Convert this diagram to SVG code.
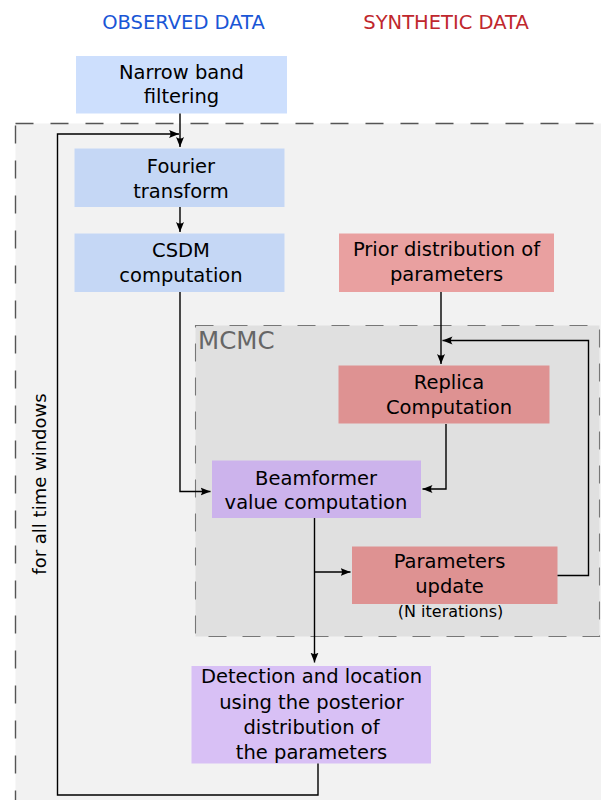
<svg xmlns="http://www.w3.org/2000/svg" width="601" height="800" viewBox="0 0 601 800">
  <style>
    text { font-family: "DejaVu Sans", "Liberation Sans", sans-serif; font-size: 19.5px; fill: #000; text-anchor: middle; }
    .hdr-obs { fill: #1a56d6; }
    .hdr-syn { fill: #c0272d; }
    .mcmc-lbl { font-size: 24.5px; fill: #666; text-anchor: start; }
    .small { font-size: 16px; }
    .side { font-size: 18px; }
    .obs-a { fill: #cddffd; }
    .obs-b { fill: #c5d7f5; }
    .prior { fill: #e9a0a0; }
    .syn { fill: #de9292; }
    .beam { fill: #ccb3ec; }
    .detect { fill: #d8c0f5; }
    .wire { fill: none; stroke: #000; stroke-width: 1.4; }
  </style>
  <defs>
    <marker id="arrow" viewBox="-10 -5 12 10" refX="0" refY="0" markerWidth="12" markerHeight="10" markerUnits="userSpaceOnUse" orient="auto">
      <path d="M0,0 L-10,-4 Q-7,0 -10,4 Z" fill="#000"/>
    </marker>
  </defs>

  <rect width="601" height="800" fill="#fff"/>

  <!-- column headings -->
  <text class="hdr-obs" x="183.5" y="29">OBSERVED DATA</text>
  <text class="hdr-syn" x="446" y="29">SYNTHETIC DATA</text>

  <!-- time-window loop frame -->
  <rect id="time-window-frame" x="15.5" y="123.5" width="620" height="720" fill="#f2f2f2" stroke="#555" stroke-width="1.4" stroke-dasharray="18 17"/>
  <text class="side" transform="translate(46,484) rotate(-90)">for all time windows</text>

  <!-- MCMC frame -->
  <g id="mcmc">
    <rect x="195.5" y="325.5" width="404" height="311" fill="#e0e0e0" stroke="#777" stroke-width="1.1" stroke-dasharray="18 16"/>
    <text class="mcmc-lbl" x="198" y="348.5">MCMC</text>
  </g>

  <g id="narrow-band">
    <rect class="obs-a" x="76" y="56" width="211" height="57.5"/>
    <text x="181.5" y="78.5">Narrow band</text>
    <text x="181.5" y="102.5">filtering</text>
  </g>

  <g id="fourier">
    <rect class="obs-b" x="74.5" y="148.5" width="210" height="58.5"/>
    <text x="181" y="172.5">Fourier</text>
    <text x="181" y="197.5">transform</text>
  </g>

  <g id="csdm">
    <rect class="obs-b" x="74.5" y="233.5" width="210" height="58.5"/>
    <text x="181" y="257">CSDM</text>
    <text x="181" y="282">computation</text>
  </g>

  <g id="prior">
    <rect class="prior" x="339" y="233.5" width="215" height="58.5"/>
    <text x="446.5" y="256">Prior distribution of</text>
    <text x="446.5" y="281">parameters</text>
  </g>

  <g id="replica">
    <rect class="syn" x="338.5" y="365.5" width="211" height="58"/>
    <text x="449" y="388.5">Replica</text>
    <text x="449" y="413.5">Computation</text>
  </g>

  <g id="beamformer">
    <rect class="beam" x="212" y="460.5" width="209" height="57.5"/>
    <text x="316" y="484.5">Beamformer</text>
    <text x="316" y="509">value computation</text>
  </g>

  <g id="parameters-update">
    <rect class="syn" x="352" y="546.5" width="205.5" height="57.5"/>
    <text x="449.5" y="568">Parameters</text>
    <text x="449.5" y="592.5">update</text>
    <text class="small" x="450.5" y="617">(N iterations)</text>
  </g>

  <g id="detection">
    <rect class="detect" x="191.5" y="666" width="239.5" height="97.5"/>
    <text x="311.5" y="683">Detection and location</text>
    <text x="311.5" y="708.5">using the posterior</text>
    <text x="311.5" y="733.5">distribution of</text>
    <text x="311.5" y="758.5">the parameters</text>
  </g>

  <g id="connectors">
    <!-- observed chain -->
    <path class="wire" d="M180,113.5 V147" marker-end="url(#arrow)"/>
    <path class="wire" d="M180,207 V232" marker-end="url(#arrow)"/>
    <path class="wire" d="M180,292 V491.5 H210.5" marker-end="url(#arrow)"/>
    <!-- synthetic chain -->
    <path class="wire" d="M441,292 V364" marker-end="url(#arrow)"/>
    <path class="wire" d="M446,424 V489 H422.5" marker-end="url(#arrow)"/>
    <!-- beamformer output -->
    <path class="wire" d="M314.5,518 V662.5" marker-end="url(#arrow)"/>
    <path class="wire" d="M314.5,572 H350.5" marker-end="url(#arrow)"/>
    <!-- MCMC iteration loop -->
    <path class="wire" d="M557.5,575.5 H588.5 V340.5 H442.5" marker-end="url(#arrow)"/>
    <!-- time-window loop -->
    <path class="wire" d="M318,763.5 V795 H57.5 V134 H179" marker-end="url(#arrow)"/>
  </g>
</svg>
